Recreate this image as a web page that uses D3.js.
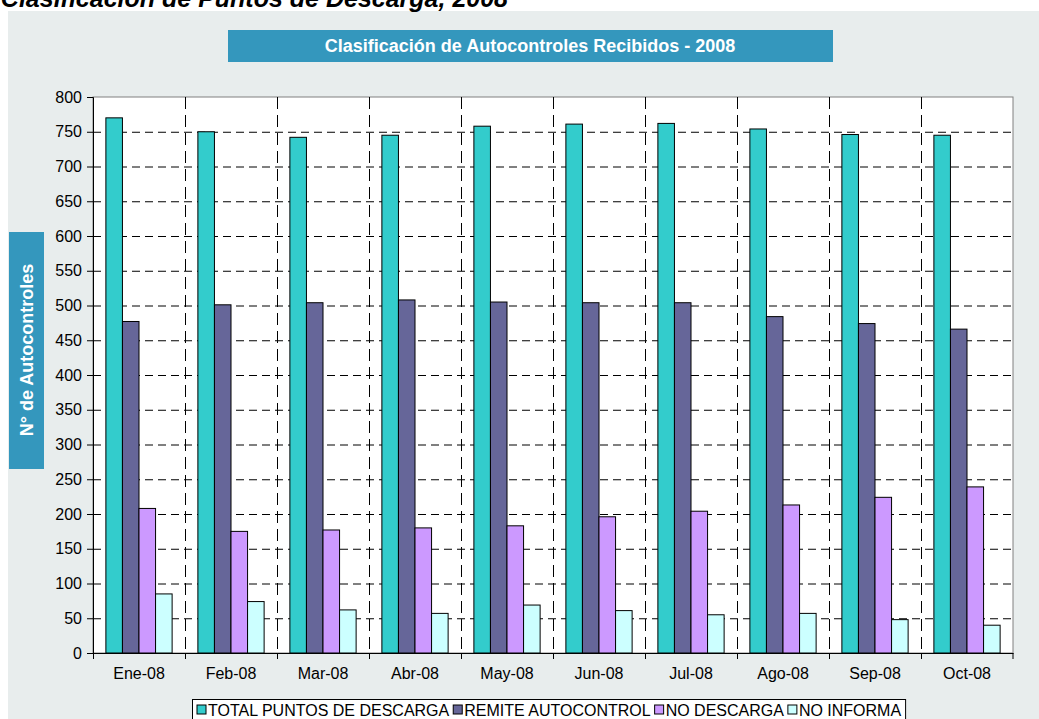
<!DOCTYPE html>
<html>
<head>
<meta charset="utf-8">
<script src="https://cdn.jsdelivr.net/npm/d3@7"></script>
<style>
  body { margin: 0; background: #fff; }
  svg { display: block; font-family: Arial, "Liberation Sans", sans-serif; }
</style>
</head>
<body>
<div id="chart"></div>
<script>
(function (d3) {
  'use strict';

  const months = ['Ene-08', 'Feb-08', 'Mar-08', 'Abr-08', 'May-08',
                  'Jun-08', 'Jul-08', 'Ago-08', 'Sep-08', 'Oct-08'];
  const seriesNames = ['TOTAL PUNTOS DE DESCARGA', 'REMITE AUTOCONTROL', 'NO DESCARGA', 'NO INFORMA'];
  const totalPuntos = [770, 750, 742, 745, 758, 761, 762, 754, 746, 745];
  const remite      = [477, 501, 504, 508, 505, 504, 504, 484, 474, 466];
  const noDescarga  = [208, 175, 177, 180, 183, 196, 204, 213, 224, 239];
  const noInforma   = [85, 74, 62, 57, 69, 61, 55, 57, 48, 40];
  const yTicks = d3.range(0, 801, 50);
  const colors = ['#33cccc', '#666699', '#cc99ff', '#ccffff'];

  const series = [totalPuntos, remite, noDescarga, noInforma];

  var width = 1039,
      height = 719,
      plot = { left: 93, right: 1013, top: 97, bottom: 653 };

  var svg = d3.select('#chart').append('svg')
      .attr('width', width)
      .attr('height', height);

  // panel background
  svg.append('rect')
      .attr('x', 8).attr('y', 11)
      .attr('width', width - 8).attr('height', height - 11)
      .attr('fill', '#e8eded');

  // page heading, cut at the top
  svg.append('text')
      .attr('x', 508).attr('y', 7)
      .attr('text-anchor', 'end')
      .attr('font-size', 25).attr('font-weight', 'bold').attr('font-style', 'italic')
      .attr('fill', '#000')
      .text('Clasificación de Puntos de Descarga, 2008');

  // title box
  svg.append('rect')
      .attr('x', 228).attr('y', 30).attr('width', 605).attr('height', 32)
      .attr('fill', '#3497bd');
  svg.append('text')
      .attr('x', 530).attr('y', 52)
      .attr('text-anchor', 'middle')
      .attr('font-size', 18).attr('font-weight', 'bold')
      .attr('fill', '#fff')
      .text('Clasificación de Autocontroles Recibidos - 2008');

  // y label box
  svg.append('rect')
      .attr('x', 9).attr('y', 232).attr('width', 35).attr('height', 237)
      .attr('fill', '#3497bd');
  svg.append('text')
      .attr('transform', 'translate(33,350) rotate(-90)')
      .attr('text-anchor', 'middle')
      .attr('font-size', 18).attr('font-weight', 'bold')
      .attr('fill', '#fff')
      .text('N° de Autocontroles');

  var x = d3.scaleBand()
      .domain(months)
      .range([plot.left, plot.right])
      .padding(0);

  var y = d3.scaleLinear()
      .domain([0, 800])
      .range([plot.bottom, plot.top]);

  // plot area
  svg.append('rect')
      .attr('x', plot.left).attr('y', plot.top)
      .attr('width', plot.right - plot.left).attr('height', plot.bottom - plot.top)
      .attr('fill', '#fff')
      .attr('stroke', '#808080');

  // grid
  svg.append('g').selectAll('line')
      .data(yTicks.filter(function (t) { return t > 0 && t < 800; }))
      .enter().append('line')
        .attr('x1', plot.left).attr('x2', plot.right)
        .attr('y1', function (d) { return y(d) + 0.5; })
        .attr('y2', function (d) { return y(d) + 0.5; })
        .attr('stroke', '#000').attr('stroke-dasharray', '8,5');

  svg.append('g').selectAll('line')
      .data(months.slice(1))
      .enter().append('line')
        .attr('x1', function (d) { return Math.round(x(d)) + 0.5; })
        .attr('x2', function (d) { return Math.round(x(d)) + 0.5; })
        .attr('y1', plot.top).attr('y2', plot.bottom)
        .attr('stroke', '#000').attr('stroke-dasharray', '12,6');

  // bars
  var barW = x.bandwidth() * 0.18,
      offset = (x.bandwidth() - 4 * barW) / 2;

  series.forEach(function (vals, si) {
    svg.append('g').selectAll('rect')
        .data(vals)
        .enter().append('rect')
          .attr('x', function (d, i) { return x(months[i]) + offset + si * barW; })
          .attr('y', function (d) { return y(d); })
          .attr('width', barW)
          .attr('height', function (d) { return y(0) - y(d); })
          .attr('fill', colors[si])
          .attr('stroke', '#000')
          .attr('stroke-width', 1);
  });

  // axes
  var yAxis = d3.axisLeft(y).tickValues(yTicks).tickSize(6).tickPadding(5);
  var gy = svg.append('g')
      .attr('transform', 'translate(' + plot.left + ',0)')
      .call(yAxis);
  gy.selectAll('text').attr('font-size', 16).attr('fill', '#000')
      .attr('font-family', 'Arial, "Liberation Sans", sans-serif');
  gy.selectAll('line,path').attr('stroke', '#000');

  var gx = svg.append('g')
      .attr('transform', 'translate(0,' + plot.bottom + ')')
      .call(d3.axisBottom(x).tickSize(0).tickPadding(15));
  gx.selectAll('text').attr('font-size', 16).attr('fill', '#000')
      .attr('font-family', 'Arial, "Liberation Sans", sans-serif');
  gx.select('path').attr('stroke', '#000');
  gx.selectAll('line.bound')
      .data(months.concat(['end']))
      .enter().append('line')
        .attr('class', 'bound')
        .attr('x1', function (d) { return d === 'end' ? plot.right : Math.round(x(d)) + 0.5; })
        .attr('x2', function (d) { return d === 'end' ? plot.right : Math.round(x(d)) + 0.5; })
        .attr('y1', 0).attr('y2', 6)
        .attr('stroke', '#000');

  // legend
  var legend = svg.append('g');
  var legendBox = legend.append('rect')
      .attr('fill', '#fff').attr('stroke', '#000');
  var lx = 197, ly = 716;
  seriesNames.forEach(function (name, i) {
    legend.append('rect')
        .attr('x', lx).attr('y', ly - 11).attr('width', 9).attr('height', 9)
        .attr('fill', colors[i]).attr('stroke', '#000').attr('stroke-width', 1);
    var t = legend.append('text')
        .attr('x', lx + 11).attr('y', ly)
        .attr('font-size', 16).attr('fill', '#000')
        .text(name);
    lx += 11 + t.node().getComputedTextLength() + 4;
  });
  legendBox.attr('x', 192.5).attr('y', 699.5)
      .attr('width', lx - 192).attr('height', 25);

})(d3);
</script>
</body>
</html>
